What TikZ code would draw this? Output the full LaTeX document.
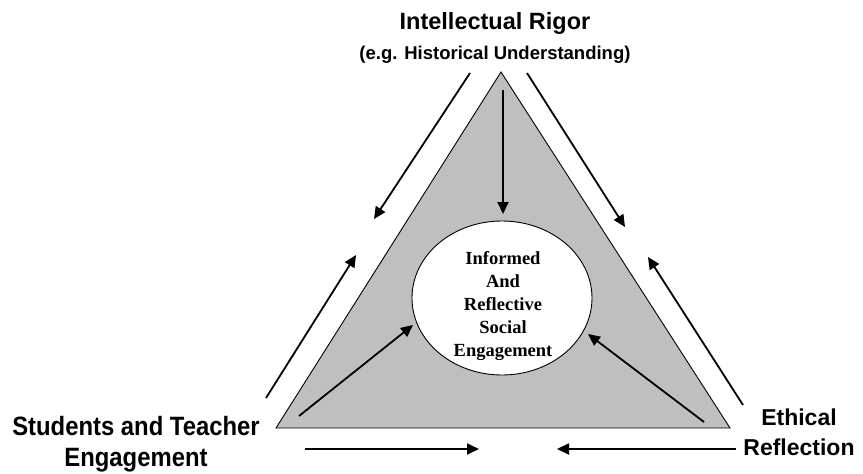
\documentclass[tikz,border=0pt]{standalone}
\usepackage{fontspec}
\setmainfont{Liberation Sans}
\newfontfamily\timesfont{Liberation Serif}
\newfontfamily\narrowfont[FakeStretch=0.9]{Liberation Sans}
\usetikzlibrary{arrows.meta}
\tikzset{
  flow/.style={line width=1.8pt, -{Triangle[length=12pt,width=11pt]}},
  corner/.style={font=\fontsize{23}{30}\selectfont\bfseries, align=center, anchor=base}
}
\begin{document}
\begin{tikzpicture}[x=1pt, y=-1pt]
        \useasboundingbox (0,0) rectangle (863,474);
        % triangle and centre
        \draw[fill=black!25, line width=0.9pt] (501,72) coordinate (apex) -- (730,428) coordinate (rcorner) -- (276,428) coordinate (lcorner) -- cycle;
        \draw[fill=white, line width=0.9pt] (502,298) ellipse [x radius=90, y radius=77];
        \node[font=\timesfont\fontsize{18.5}{23}\selectfont\bfseries, align=center] (goal) at (503,306) {Informed\\And\\Reflective\\Social\\Engagement};
        % labels
        \node[font=\fontsize{23.5}{27}\selectfont\bfseries, anchor=base] (rigor) at (495,29) {Intellectual Rigor};
        \node[font=\fontsize{18.5}{22}\selectfont\bfseries, anchor=base] (rigornote) at (495,59) {(e.g. Historical Understanding)};
        \node[corner, font=\narrowfont\fontsize{26.5}{31}\selectfont\bfseries] (students) at (136,466) {Students and Teacher\\Engagement};
        \node[corner] (ethics) at (799,455) {Ethical\\Reflection};
        % arrows
        \draw[flow] (470,73) coordinate (a1) -- (374,219) coordinate (b1);
        \draw[flow] (527,73) coordinate (a2) -- (625,227) coordinate (b2);
        \draw[flow] (503,90) coordinate (a3) -- (503,214) coordinate (b3);
        \draw[flow] (266,398) coordinate (a4) -- (356,255) coordinate (b4);
        \draw[flow] (743,405) coordinate (a5) -- (648,257) coordinate (b5);
        \draw[flow] (299,416) coordinate (a6) -- (413,325) coordinate (b6);
        \draw[flow] (704,422) coordinate (a7) -- (588,334) coordinate (b7);
        \draw[flow] (305,449) coordinate (a8) -- (479,449) coordinate (b8);
        \draw[flow] (736,449) coordinate (a9) -- (557,449) coordinate (b9);
\end{tikzpicture}
\end{document}
